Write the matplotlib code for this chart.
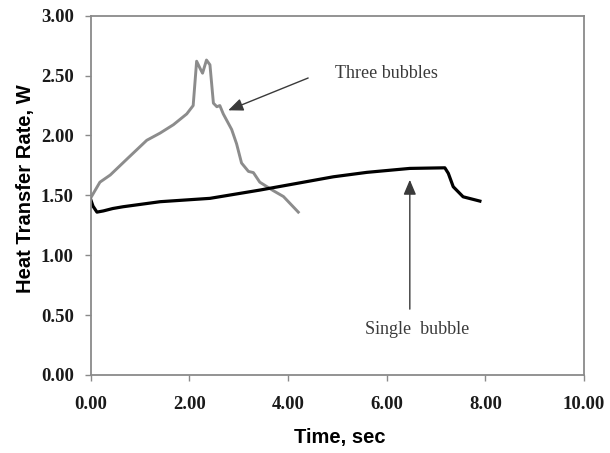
import matplotlib
matplotlib.use("Agg")
import matplotlib.pyplot as plt

# Three bubbles (gray)
three_t = [0.02, 0.19, 0.40, 0.73, 1.14, 1.41, 1.68, 1.95, 2.08, 2.15, 2.22, 2.27,
           2.35, 2.42, 2.49, 2.56, 2.62, 2.69, 2.86, 2.96, 3.06, 3.20, 3.30, 3.43,
           3.70, 3.91, 4.21]
three_q = [1.49, 1.61, 1.67, 1.80, 1.96, 2.02, 2.09, 2.18, 2.25, 2.62, 2.56, 2.52,
           2.63, 2.59, 2.27, 2.24, 2.25, 2.18, 2.05, 1.93, 1.77, 1.70, 1.69, 1.61,
           1.54, 1.49, 1.36]

# Single bubble (black)
single_t = [0.00, 0.05, 0.13, 0.26, 0.45, 0.66, 1.41, 2.42, 3.43, 4.25, 4.92, 5.60,
            6.47, 7.18, 7.25, 7.35, 7.55, 7.89]
single_q = [1.47, 1.41, 1.36, 1.37, 1.39, 1.405, 1.447, 1.475, 1.544, 1.605, 1.655, 1.692,
            1.725, 1.73, 1.684, 1.572, 1.488, 1.452]

x_ticks = [0, 2, 4, 6, 8, 10]
y_ticks = [0, 0.5, 1.0, 1.5, 2.0, 2.5, 3.0]

fig = plt.figure(figsize=(6.1, 4.53), dpi=100)
ax = fig.add_axes([0.1484, 0.1722, 0.9574 - 0.1484, 0.9653 - 0.1722])

ax.plot(three_t, three_q, color="#8c8c8c", lw=2.1, solid_joinstyle="round")
ax.plot(single_t, single_q, color="black", lw=2.3, solid_joinstyle="round")

ax.set_xlim(0, 10)
ax.set_ylim(0, 3)
ax.set_xticks(x_ticks)
ax.set_yticks(y_ticks)
ax.set_xticklabels([f"{v:.2f}" for v in x_ticks])
ax.set_yticklabels([f"{v:.2f}" for v in y_ticks])

for s in ax.spines.values():
    s.set_color("#8a8a8a")
    s.set_linewidth(1.3)

for lab in ax.get_xticklabels() + ax.get_yticklabels():
    lab.set_fontfamily("Liberation Serif")
    lab.set_fontweight("bold")
    lab.set_fontsize(13.5)
    lab.set_color("#1a1a1a")
ax.tick_params(axis="both", direction="out", length=4, width=1.0, color="#8a8a8a")
ax.tick_params(axis="x", pad=11)
ax.tick_params(axis="y", pad=8)

ax.set_xlabel("Time, sec", family="Liberation Sans", weight="bold", size=14.5)
ax.set_ylabel("Heat Transfer Rate, W", family="Liberation Sans", weight="bold", size=14.5)
ax.xaxis.set_label_coords(0.506, -0.147)
ax.yaxis.set_label_coords(-0.113, 0.518)

arrow_props = dict(arrowstyle="-|>,head_length=0.9,head_width=0.38", color="#3a3a3a",
                   lw=1.0, shrinkA=0, shrinkB=0)
ax.annotate("", xy=(2.79, 2.21), xytext=(4.41, 2.48), arrowprops=arrow_props)
ax.annotate("", xy=(6.47, 1.63), xytext=(6.47, 0.55), arrowprops=arrow_props)

ax.text(4.95, 2.52, "Three bubbles", family="Liberation Serif", size=13,
        color="#3a3a3a", ha="left", va="center")
ax.text(6.62, 0.38, "Single  bubble", family="Liberation Serif", size=13,
        color="#3a3a3a", ha="center", va="center")

fig.savefig("out.png", dpi=100)
